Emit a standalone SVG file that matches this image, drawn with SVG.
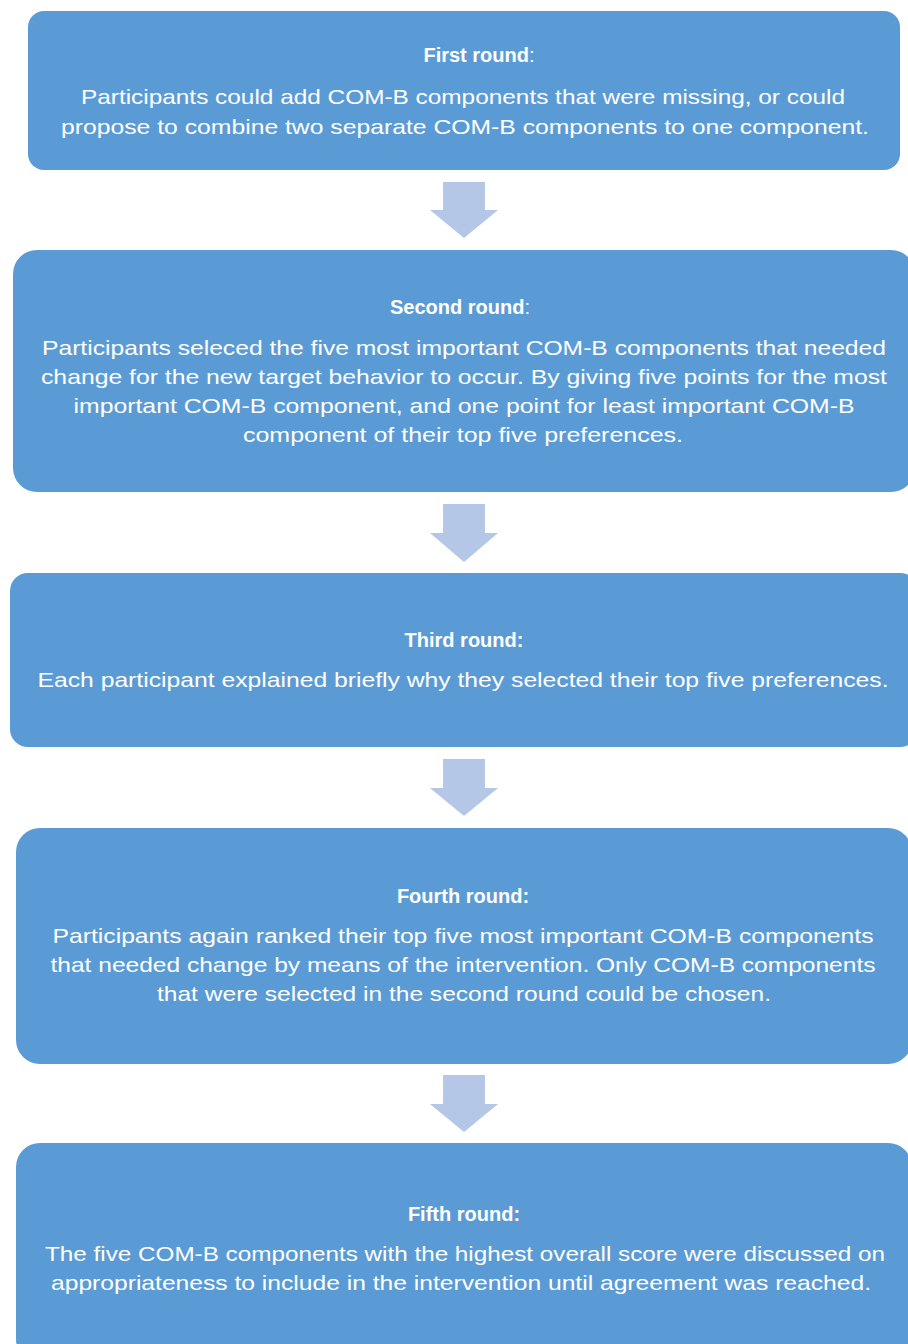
<svg xmlns="http://www.w3.org/2000/svg" width="908" height="1344" viewBox="0 0 908 1344">
<style>
.box{fill:#5B9BD5;}
.arr{fill:#B4C7E7;}
text{font-family:"Liberation Sans",Arial,sans-serif;fill:#FFFFFF;font-size:21px;text-anchor:middle;}
.t{font-weight:bold;font-size:20px;}
.n{font-weight:normal;}
</style>
<rect width="908" height="1344" fill="#FFFFFF"/>
<g id="connectors">
<path class="arr" d="M443,182 H485 V210 H498 L464,238 L430,210 H443 Z"/>
<path class="arr" d="M443,504 H485 V533 H498 L464,562 L430,533 H443 Z"/>
<path class="arr" d="M443,759 H485 V788 H498 L464,816 L430,788 H443 Z"/>
<path class="arr" d="M443,1075 H485 V1104 H498 L464,1132 L430,1104 H443 Z"/>
</g>
<g id="node1">
<rect class="box" x="28" y="11" width="872" height="159" rx="16"/>
<text class="t" x="479" y="62">First round<tspan class="n">:</tspan></text>
<text x="463" y="104" textLength="764" lengthAdjust="spacingAndGlyphs">Participants could add COM-B components that were missing, or could</text>
<text x="465" y="134" textLength="808" lengthAdjust="spacingAndGlyphs">propose to combine two separate COM-B components to one component.</text>
</g>
<g id="node2">
<rect class="box" x="13" y="250" width="902" height="242" rx="24"/>
<text class="t" x="460" y="314">Second round<tspan class="n">:</tspan></text>
<text x="464" y="355" textLength="844" lengthAdjust="spacingAndGlyphs">Participants seleced the five most important COM-B components that needed</text>
<text x="464" y="384" textLength="846" lengthAdjust="spacingAndGlyphs">change for the new target behavior to occur. By giving five points for the most</text>
<text x="464" y="413" textLength="781" lengthAdjust="spacingAndGlyphs">important COM-B component, and one point for least important COM-B</text>
<text x="463" y="442" textLength="440" lengthAdjust="spacingAndGlyphs">component of their top five preferences.</text>
</g>
<g id="node3">
<rect class="box" x="10" y="573" width="908" height="174" rx="18"/>
<text class="t" x="464" y="647">Third round:</text>
<text x="463" y="687" textLength="851" lengthAdjust="spacingAndGlyphs">Each participant explained briefly why they selected their top five preferences.</text>
</g>
<g id="node4">
<rect class="box" x="16" y="828" width="896" height="236" rx="24"/>
<text class="t" x="463" y="903">Fourth round:</text>
<text x="463" y="943" textLength="821" lengthAdjust="spacingAndGlyphs">Participants again ranked their top five most important COM-B components</text>
<text x="463" y="972" textLength="825" lengthAdjust="spacingAndGlyphs">that needed change by means of the intervention. Only COM-B components</text>
<text x="464" y="1001" textLength="614" lengthAdjust="spacingAndGlyphs">that were selected in the second round could be chosen.</text>
</g>
<g id="node5">
<rect class="box" x="16" y="1143" width="896" height="220" rx="24"/>
<text class="t" x="464" y="1221">Fifth round:</text>
<text x="465" y="1261" textLength="840" lengthAdjust="spacingAndGlyphs">The five COM-B components with the highest overall score were discussed on</text>
<text x="461" y="1290" textLength="820" lengthAdjust="spacingAndGlyphs">appropriateness to include in the intervention until agreement was reached.</text>
</g>
</svg>
